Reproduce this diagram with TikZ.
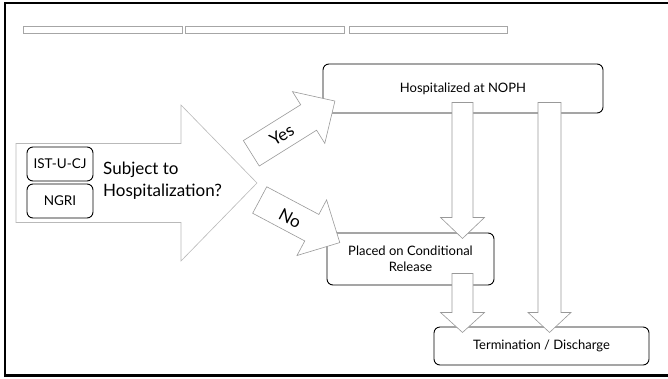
\documentclass[tikz,border=0pt]{standalone}
\usepackage{fontspec}
\setmainfont{Lato}
\usepackage{tikz}
\usetikzlibrary{calc}

% block arrow: style, tail, angle, shaft length, half shaft, half head, head length
\newcommand{\fatarrow}[7]{%
  \draw[#1, shift={(#2)}, rotate=#3] (0,-#5) -- (#4,-#5) -- (#4,-#6) -- ({#4+#7},0)
    -- (#4,#6) -- (#4,#5) -- (0,#5) -- cycle;}

\tikzset{
  box/.style={draw, rounded corners=6pt, line width=0.9pt, fill=white, align=center, inner sep=0pt},
  smallbox/.style={box, minimum width=66pt, minimum height=34pt, font=\fontsize{13.5}{14}\selectfont},
  bar/.style={draw=gray!70, fill=white, line width=0.5pt},
  thinarrow/.style={draw=gray!80, fill=white, line width=0.6pt},
  bigarrow/.style={draw=gray!55, fill=white, line width=0.6pt},
  boxfont/.style={font=\fontsize{13}{16}\selectfont}
}

\begin{document}
\begin{tikzpicture}[x=1pt, y=-1pt]
    \useasboundingbox (0,0) rectangle (668,378);
    \draw[line width=2.5pt] (668,3) -- (5,3) -- (5,375.5) -- (668,375.5);

    % header bars
    \node[bar, minimum width=159pt, minimum height=5pt] (bar1) at (102.5,29.5) {};
    \node[bar, minimum width=159pt, minimum height=5pt] (bar2) at (264.5,29.5) {};
    \node[bar, minimum width=158pt, minimum height=5pt] (bar3) at (428,29.5) {};

    % question arrow
    \coordinate (q0) at (16,183);
    \fatarrow{bigarrow}{q0}{0}{165}{39.5}{78}{76}
    \node[smallbox] (ist) at (60,164) {IST-U-CJ};
    \node[smallbox] (ngri) at (60,201) {NGRI};
    \node[anchor=west, align=left, inner sep=0pt, font=\fontsize{17}{22}\selectfont] (subj) at (103,181)
        {Subject to\\Hospitalization?};

    % outcome boxes
    \node[box, boxfont, minimum width=280pt, minimum height=49pt] (hosp) at (463,88.5) {Hospitalized at NOPH};
    \node[box, boxfont, minimum width=167pt, minimum height=52pt] (cond) at (410.5,259) {Placed on Conditional\\Release};
    \node[box, boxfont, minimum width=215pt, minimum height=38pt] (term) at (541.5,346) {Termination / Discharge};

    % branch arrows
    \coordinate (yes0) at (251.3,153.3);
    \coordinate (no0) at (259.7,200);
    \fatarrow{thinarrow}{yes0}{32}{67.6}{15}{30.5}{31}
    \fatarrow{thinarrow}{no0}{-28}{59}{15}{31.5}{31.7}
    \node[rotate=32, inner sep=0pt, font=\fontsize{17}{18}\selectfont] (yes) at (281.7,135) {Yes};
    \node[rotate=-28, inner sep=0pt, font=\fontsize{17}{18}\selectfont] (no) at (290,218) {No};

    % downward arrows
    \coordinate (h1) at ($(hosp.south)+(-0.5,-11)$);
    \coordinate (h2) at ($(hosp.south)+(86.5,-11)$);
    \coordinate (c1) at ($(cond.south)+(52,-12)$);
    \fatarrow{thinarrow}{h1}{-90}{115}{10.5}{22}{21}
    \fatarrow{thinarrow}{h2}{-90}{210}{11.5}{21.5}{20}
    \fatarrow{thinarrow}{c1}{-90}{39}{10.5}{22}{20}
\end{tikzpicture}
\end{document}
